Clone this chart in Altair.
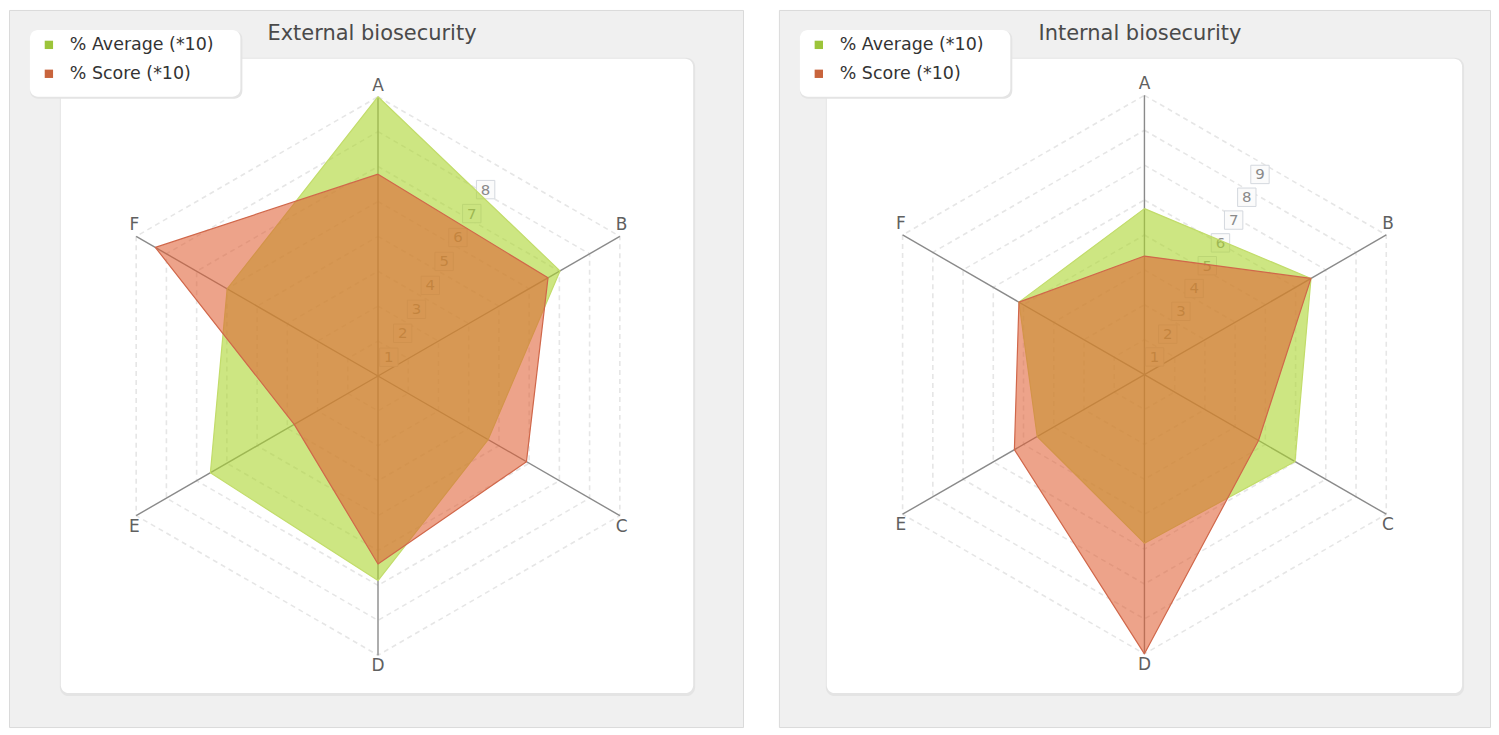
import altair as alt
import pandas as pd

# ---------------- data ----------------
categories = ["A", "B", "C", "D", "E", "F"]
series_names = ["% Average (*10)", "% Score (*10)"]
titles = ["External biosecurity", "Internal biosecurity"]

ext_average = [10.1, 7.6, 4.6, 7.4, 7.0, 6.3]
ext_score = [7.3, 7.1, 6.2, 6.8, 3.5, 9.3]
int_average = [6.3, 7.3, 6.6, 6.4, 4.7, 5.5]
int_score = [4.5, 7.3, 5.0, 10.6, 5.7, 5.5]

ext_ticks = [1, 2, 3, 4, 5, 6, 7, 8]
int_ticks = [1, 2, 3, 4, 5, 6, 7, 8, 9]

# ---------------- style ----------------
AVG_FILL = "#acd52f"
SCORE_FILL = "#df5e32"
AVG_MARK = "#9cc43a"
SCORE_MARK = "#c8643c"
FONT = "DejaVu Sans"
H = 719
R = 280
RINGS = [1, 2, 3, 4, 5, 6, 7, 8]


def panel(title, avg, score, ticks, W, cx, cy, inner, title_x):
    vmax = max(avg + score)
    xs = alt.Scale(domain=[0, W], nice=False, zero=False)
    ys = alt.Scale(domain=[0, H], nice=False, zero=False, reverse=True)
    X = lambda f: alt.X(f, type="quantitative", scale=xs, axis=None)
    Y = lambda f: alt.Y(f, type="quantitative", scale=ys, axis=None)
    one = alt.Data(values=[{}])

    # inner white rounded box (+ soft shadow)
    x0, y0, x1, y1 = inner
    shadow = alt.Chart(one).mark_rect(cornerRadius=9, fill="#e4e4e4").encode(
        x=alt.value(x0 - 1), x2=alt.value(x1 + 2), y=alt.value(y0 - 1), y2=alt.value(y1 + 3))
    box = alt.Chart(one).mark_rect(cornerRadius=8, fill="white").encode(
        x=alt.value(x0), x2=alt.value(x1), y=alt.value(y0), y2=alt.value(y1))

    # grid rings
    ring_rows = [{"ring": k, "idx": i} for k in RINGS for i in range(7)]
    rings = alt.Chart(pd.DataFrame(ring_rows)).transform_calculate(
        a="datum.idx * PI / 3",
        r=f"datum.ring / {len(RINGS)} * {R}",
    ).transform_calculate(
        px=f"{cx} + datum.r * sin(datum.a)",
        py=f"{cy} - datum.r * cos(datum.a)",
    ).mark_line(stroke="#e6e6e6", strokeWidth=1.6, strokeDash=[5, 4]).encode(
        x=X("px"), y=Y("py"), detail="ring:N", order="idx:Q")

    # spokes
    cat_df = pd.DataFrame({"cat": categories, "idx": list(range(len(categories)))})
    spokes = alt.Chart(cat_df).transform_calculate(
        a="datum.idx * PI / 3",
        x0=f"{cx}", y0=f"{cy}",
    ).transform_calculate(
        ex=f"{cx} + {R} * sin(datum.a)",
        ey=f"{cy} - {R} * cos(datum.a)",
    ).mark_rule(color="#8a8a8a", strokeWidth=1.4).encode(
        x=X("x0"), y=Y("y0"), x2="ex:Q", y2="ey:Q")

    # radial tick labels (drawn under the fills)
    tick_df = pd.DataFrame({"t": ticks})
    tick_base = alt.Chart(tick_df).transform_calculate(
        d=f"datum.t / {vmax} * {R} - 6",
    ).transform_calculate(
        px=f"{cx} + datum.d * 0.5",
        py=f"{cy} - datum.d * 0.866",
    )
    tick_boxes = tick_base.mark_point(shape="square", size=340, filled=True, fill="#fbfbfb",
                                      stroke="#d4d8de", strokeWidth=1, opacity=1).encode(
        x=X("px"), y=Y("py"))
    tick_text = tick_base.mark_text(font=FONT, fontSize=15, color="#8a8a8a").encode(
        x=X("px"), y=Y("py"), text="t:Q")

    # polygons
    def poly(vals, name, fill, fop, stroke):
        rows = [{"series": name, "cat": categories[i % 6], "idx": i, "v": vals[i % 6]} for i in range(7)]
        return alt.Chart(pd.DataFrame(rows)).transform_calculate(
            a="datum.idx * PI / 3",
            r=f"datum.v / {vmax} * {R}",
        ).transform_calculate(
            px=f"{cx} + datum.r * sin(datum.a)",
            py=f"{cy} - datum.r * cos(datum.a)",
        ).mark_line(fill=fill, fillOpacity=fop, stroke=stroke, strokeWidth=1.2,
                    strokeJoin="round").encode(
            x=X("px"), y=Y("py"), order="idx:Q")

    p_avg = poly(avg, series_names[0], AVG_FILL, 0.6, "#c2dc6a")
    p_score = poly(score, series_names[1], SCORE_FILL, 0.57, "#d0674a")

    # category labels
    cat_labels = alt.Chart(cat_df).transform_calculate(
        a="datum.idx * PI / 3",
    ).transform_calculate(
        px=f"{cx} + 282 * sin(datum.a)",
        py=f"{cy} - {R} * cos(datum.a) - 11 * (cos(datum.a) > 0 ? 1 : -1)",
    ).mark_text(font=FONT, fontSize=17, color="#606060").encode(
        x=X("px"), y=Y("py"), text="cat:N")

    # title
    ttl = alt.Chart(one).mark_text(font=FONT, fontSize=21, color="#4a4a4a").encode(
        x=alt.value(title_x), y=alt.value(24), text=alt.value(title))

    # legend
    lg_shadow = alt.Chart(one).mark_rect(cornerRadius=8, fill="#e4e4e4").encode(
        x=alt.value(21), x2=alt.value(234), y=alt.value(21), y2=alt.value(89))
    lg_box = alt.Chart(one).mark_rect(cornerRadius=8, fill="white").encode(
        x=alt.value(21), x2=alt.value(232), y=alt.value(20), y2=alt.value(87))
    lg_df = pd.DataFrame({"series": series_names, "i": [0, 1]})
    lg_base = alt.Chart(lg_df).transform_calculate(ly="35 + 29 * datum.i", lx="40", tx="61")
    lg_marks = lg_base.mark_square(size=70, opacity=1).encode(
        x=X("lx"), y=Y("ly"),
        color=alt.Color("series:N", scale=alt.Scale(domain=series_names, range=[AVG_MARK, SCORE_MARK]),
                        legend=None))
    lg_text = lg_base.mark_text(font=FONT, fontSize=17.5, color="#333333", align="left").encode(
        x=X("tx"), y=Y("ly"), text="series:N")

    return alt.layer(shadow, box, rings, spokes, tick_boxes, tick_text, p_avg, p_score,
                     cat_labels, ttl, lg_shadow, lg_box, lg_marks, lg_text).properties(width=W, height=H)


left = panel(titles[0], ext_average, ext_score, ext_ticks, 736, 370, 367, (52, 49, 686, 685), 364)
right = panel(titles[1], int_average, int_score, int_ticks, 713, 366.5, 365.6, (48, 49, 685, 685), 362)

chart = alt.hconcat(left, right, spacing=34).properties(
    padding=0, background="white"
).configure_view(fill="#f0f0f0", stroke="#dadada", strokeWidth=1)

chart.save("out.html", embed_options={"renderer": "svg", "actions": False})
